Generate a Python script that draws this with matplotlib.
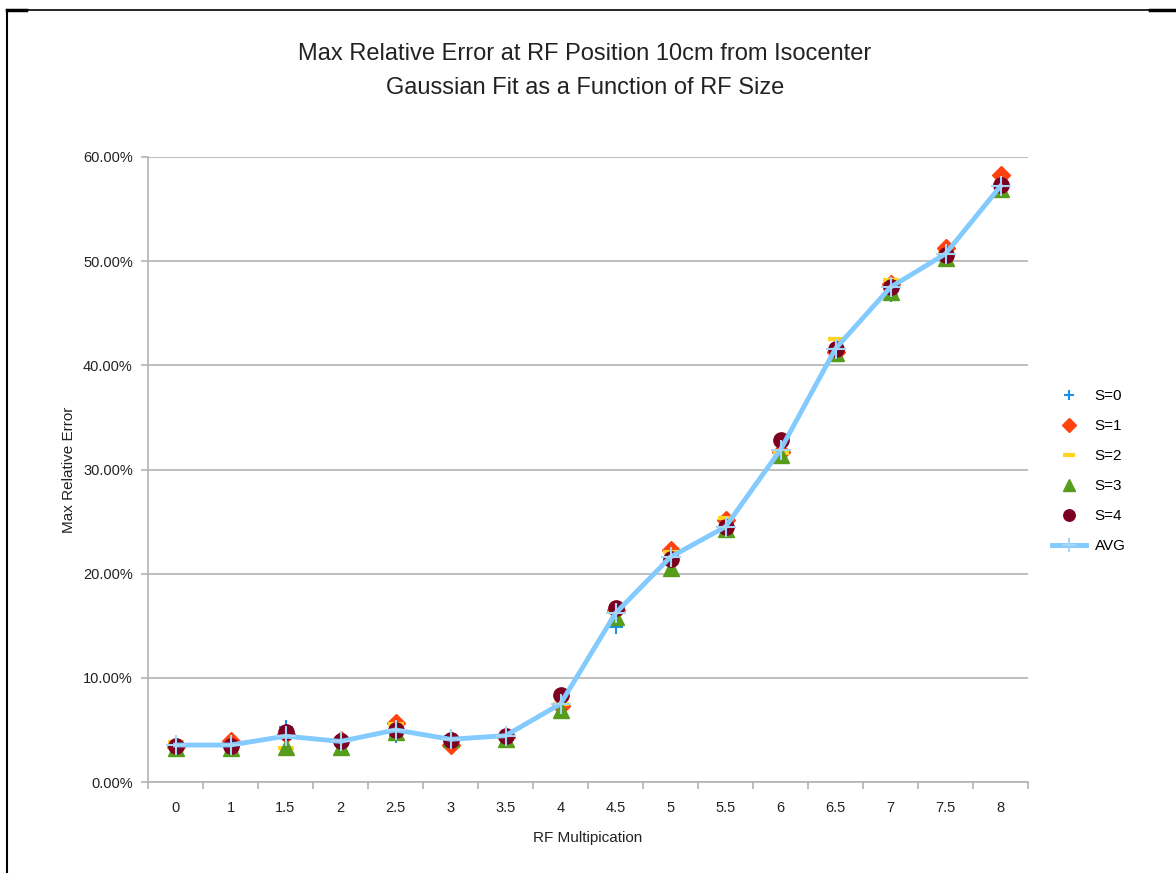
import numpy as np
import matplotlib.pyplot as plt
from matplotlib.lines import Line2D

plt.rcParams['font.family'] = ['Liberation Sans', 'DejaVu Sans']

# RF multiplication factors (x categories)
rf_labels = ['0', '1', '1.5', '2', '2.5', '3', '3.5', '4',
             '4.5', '5', '5.5', '6', '6.5', '7', '7.5', '8']

# max relative error in percent, one list per S value
s0 = [3.5, 3.5, 5.3, 4.0, 4.4, 4.4, 4.4, 7.5, 14.9, 21.5, 24.1, 31.8, 41.6, 46.8, 50.6, 57.0]
s1 = [3.4, 3.9, 4.6, 4.0, 5.7, 3.6, 4.3, 7.3, 16.5, 22.3, 25.2, 31.7, 41.3, 47.8, 51.3, 58.3]
s2 = [3.8, 3.6, 3.3, 3.9, 5.6, 4.2, 4.4, 7.5, 16.3, 22.1, 25.3, 31.6, 42.5, 48.2, 50.8, 57.3]
s3 = [3.3, 3.3, 3.4, 3.4, 4.8, 4.1, 4.1, 6.9, 15.8, 20.5, 24.3, 31.4, 41.2, 47.0, 50.3, 56.9]
s4 = [3.5, 3.5, 4.8, 3.9, 5.0, 4.0, 4.4, 8.4, 16.7, 21.4, 24.5, 32.8, 41.6, 47.5, 50.6, 57.3]
avg = [3.55, 3.55, 4.4, 3.9, 5.0, 4.1, 4.45, 7.5, 16.2, 21.6, 24.5, 31.9, 41.6, 47.5, 50.7, 57.2]

fig = plt.figure(figsize=(11.76, 8.73), dpi=100)
ax = fig.add_axes([148 / 1176, 1 - 782 / 873, 880 / 1176, 625 / 873])

x = np.arange(len(rf_labels))

ax.plot(x, np.array(s0) / 100, ls='none', marker='+', ms=10, mew=1.5, color='#1e8fe6', label='S=0')
ax.plot(x, np.array(s1) / 100, ls='none', marker='D', ms=9, color='#ff420e', label='S=1')
ax.plot(x, np.array(s2) / 100, ls='none', marker='_', ms=12, mew=3, color='#ffd320', label='S=2')
ax.plot(x, np.array(s3) / 100, ls='none', marker='^', ms=11, color='#579d1c', label='S=3')
ax.plot(x, np.array(s4) / 100, ls='none', marker='o', ms=11, color='#7e0021', label='S=4')
ax.plot(x, np.array(avg) / 100, lw=3.5, color='#83caff', marker='+', ms=14, mew=1.5,
        markeredgecolor='#a6d6f5', label='AVG')

ax.set_xlim(-0.5, len(rf_labels) - 0.5)
ax.set_ylim(0, 0.6)
ax.set_yticks(np.arange(0, 0.61, 0.1))
ax.set_yticklabels(['%.2f%%' % (v * 100) for v in np.arange(0, 0.61, 0.1)])
ax.set_xticks(x)
ax.set_xticklabels(rf_labels)
ax.set_xticks(np.arange(-0.5, len(rf_labels)), minor=True)
ax.tick_params(axis='x', which='major', length=0, pad=14, labelsize=10.5, colors='#222222')
ax.tick_params(axis='x', which='minor', length=5, width=1.2, color='#b3b3b3')
ax.tick_params(axis='y', length=5, width=1.2, color='#b3b3b3', labelsize=10.5,
               labelcolor='#222222', pad=6)

ax.yaxis.grid(True, color='#b3b3b3', lw=1.2)
ax.set_axisbelow(True)
for side in ('top', 'right'):
    ax.spines[side].set_visible(False)
for side in ('left', 'bottom'):
    ax.spines[side].set_color('#b3b3b3')
    ax.spines[side].set_linewidth(1.2)

ax.set_ylabel('Max Relative Error', fontsize=11, color='#222222', labelpad=5)
ax.set_xlabel('RF Multipication', fontsize=11, color='#222222', labelpad=11)

fig.text(0.4975, 1 - 54 / 873, 'Max Relative Error at RF Position 10cm from Isocenter',
         ha='center', va='center', fontsize=17, color='#222222')
fig.text(0.4975, 1 - 88 / 873, 'Gaussian Fit as a Function of RF Size',
         ha='center', va='center', fontsize=17, color='#222222')

ax.legend(loc='center left', bbox_to_anchor=(1052 / 1176, 1 - 471 / 873), bbox_transform=fig.transFigure,
          frameon=False, fontsize=11, labelspacing=1.05, handlelength=2.2, handletextpad=0.6,
          borderaxespad=0, borderpad=0, markerscale=0.75)

# page frame around the chart
fig.add_artist(Line2D([7 / 1176, 1.0], [1 - 10 / 873] * 2, transform=fig.transFigure, color='black', lw=1.2))
fig.add_artist(Line2D([7 / 1176, 7 / 1176], [0, 1 - 10 / 873], transform=fig.transFigure, color='black', lw=1.5))
fig.add_artist(Line2D([7 / 1176, 26 / 1176], [1 - 10 / 873] * 2, transform=fig.transFigure, color='black', lw=2.5))
fig.add_artist(Line2D([1150 / 1176, 1.0], [1 - 10 / 873] * 2, transform=fig.transFigure, color='black', lw=2.5))

fig.savefig('out.png', dpi=100)
